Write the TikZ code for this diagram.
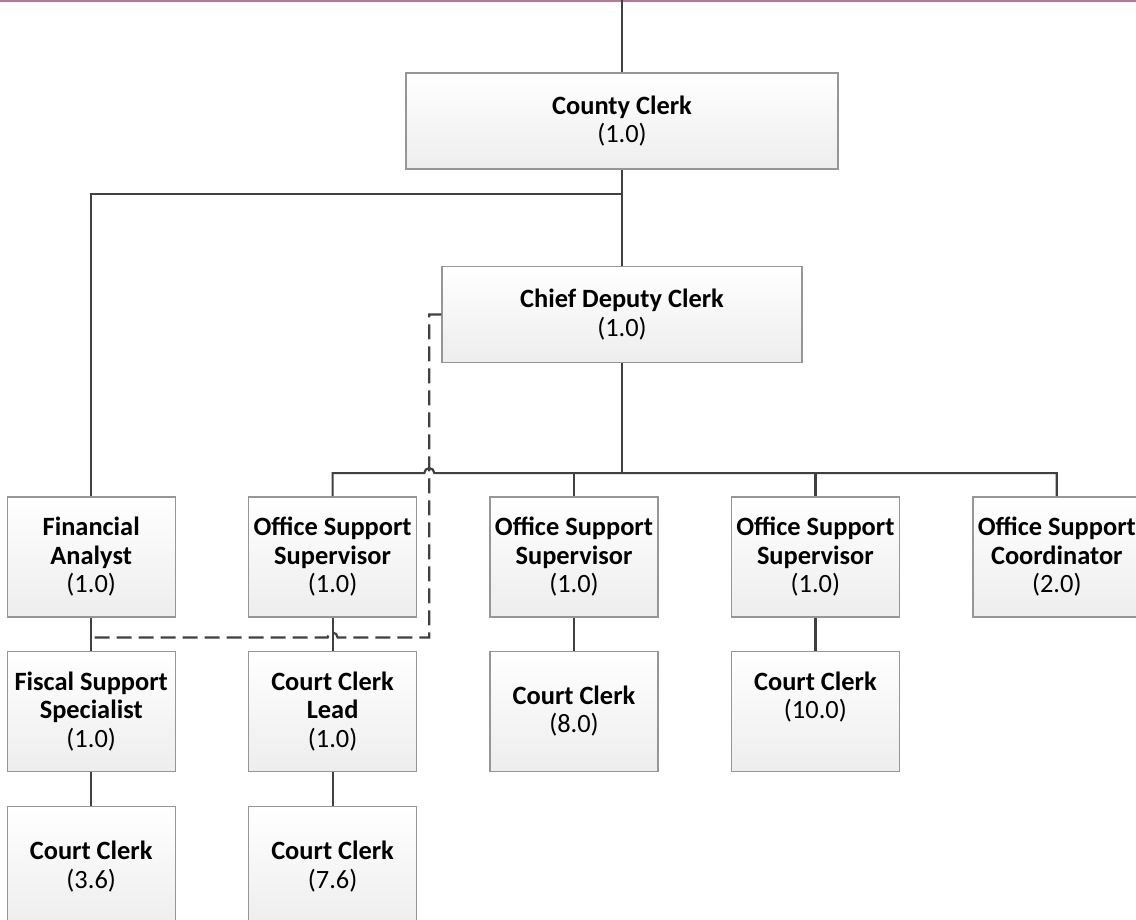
\documentclass[tikz,border=0pt]{standalone}
\usepackage{fontspec}
\setmainfont{Carlito}
\usepackage{xcolor}
\usepackage{tikz}
\usetikzlibrary{positioning, calc}

\definecolor{linegray}{RGB}{64,64,64}
\definecolor{boxgray}{RGB}{150,150,150}
\definecolor{barmauve}{RGB}{178,122,148}

\begin{document}
\begin{tikzpicture}[
    node distance=16.5pt and 36pt,
    font=\fontsize{13.2}{14.2}\selectfont,
    % Styles
    post/.style={rectangle, draw=boxgray, line width=0.7pt, top color=white, bottom color=black!7, minimum width=84pt, minimum height=60pt, align=center, inner sep=0.5pt},
    headpost/.style={post, minimum width=216pt, minimum height=48pt},
    link/.style={draw=linegray, line width=1.1pt},
    dottedlink/.style={link, dash pattern=on 7.5pt off 3.5pt},
    topbar/.style={draw=barmauve, line width=1.2pt}
]
\useasboundingbox (0,0) rectangle (568pt,-460pt);
\coordinate (origin) at (0,0);

% --- Top Level ---
\node[headpost] (county) at (311pt,-60.5pt) {\textbf{County Clerk}\\(1.0)};
\node[headpost, minimum width=180pt, below=48pt of county] (chief) {\textbf{Chief Deputy Clerk}\\(1.0)};

% --- Row 1 ---
\node[post, below=66.5pt of chief, xshift=-24pt] (supB) {\textbf{Office Support}\\\textbf{Supervisor}\\(1.0)};
\node[post, left=of supB] (supA) {\textbf{Office Support}\\\textbf{Supervisor}\\(1.0)};
\node[post, left=of supA] (analyst) {\textbf{Financial}\\\textbf{Analyst}\\(1.0)};
\node[post, right=of supB] (supC) {\textbf{Office Support}\\\textbf{Supervisor}\\(1.0)};
\node[post, right=of supC] (coord) {\textbf{Office Support}\\\textbf{Coordinator}\\(2.0)};

% --- Row 2 ---
\node[post, below=of analyst] (fiscal) {\textbf{Fiscal Support}\\\textbf{Specialist}\\(1.0)};
\node[post, below=of supA] (lead) {\textbf{Court Clerk}\\\textbf{Lead}\\(1.0)};
\node[post, below=of supB] (clerkB) {\textbf{Court Clerk}\\(8.0)};
\node[post, below=of supC] (clerkC) {\textbf{Court Clerk}\\(10.0)\\[2pt]\mbox{}};

% --- Row 3 ---
\node[post, below=17pt of fiscal] (clerkF) {\textbf{Court Clerk}\\(3.6)};
\node[post, below=17pt of lead] (clerkL) {\textbf{Court Clerk}\\(7.6)};

% Helper coordinates
\coordinate (split) at ($(county.south)+(0,-12pt)$);
\coordinate (bus) at ($(supB.north)+(0,11.5pt)$);
\coordinate (dashx) at ($(chief.west)+(-6pt,0)$);
\coordinate (dashy) at ($(analyst.south)+(0,-10pt)$);

% Top bar and feed
\draw[topbar] (0,-0.6pt) -- (568pt,-0.6pt);
\draw[link] (county.north |- origin) -- (county.north);

% --- Connections ---
\draw[link] (county.south) -- (chief.north);
\draw[link] (split) -| (analyst.north);
\draw[link] (chief.south) -- (chief.south |- bus);
\draw[link] (supA.north) |- ($(dashx |- bus)+(-2.5pt,0)$) arc[start angle=180, end angle=0, radius=2.5pt] -| (coord.north);
\draw[link] (supB.north) -- (supB.north |- bus);
\draw[link] (supC.north) -- (supC.north |- bus);

\draw[link] (analyst) -- (fiscal);
\draw[link] (supA) -- (lead);
\draw[link] (supB) -- (clerkB);
\draw[link] (supC) -- (clerkC);
\draw[link] (fiscal) -- (clerkF);
\draw[link] (lead) -- (clerkL);

% Dotted line
\draw[dottedlink] (chief.west) -- (dashx) |- ($(lead.north |- dashy)+(2.5pt,0)$) arc[start angle=0, end angle=180, radius=2.5pt] -- (analyst.south |- dashy);

\end{tikzpicture}
\end{document}
